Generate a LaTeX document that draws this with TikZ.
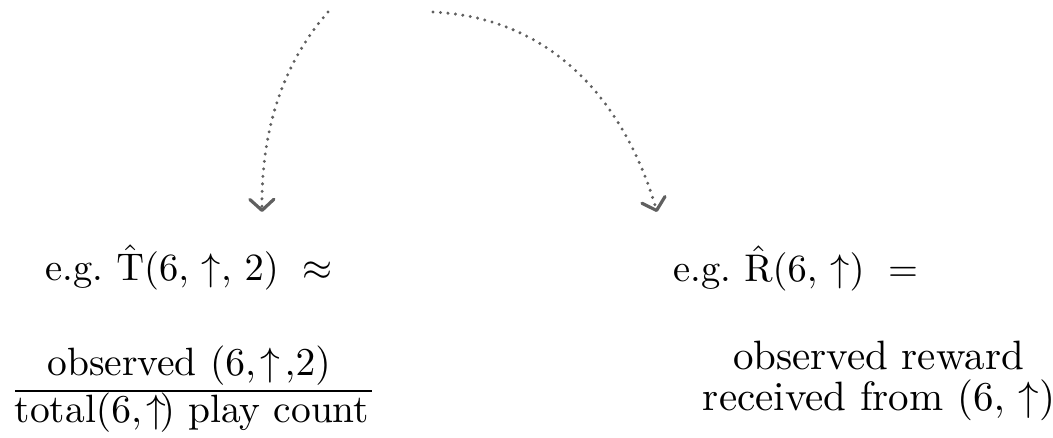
\documentclass[tikz,border=0pt]{standalone}
\usepackage{amsmath}
\usetikzlibrary{arrows.meta}
\definecolor{dotgray}{HTML}{606060}
\tikzset{
  dotarrow/.style={draw=dotgray, line width=3.3pt, line cap=round,
    dash pattern=on 0pt off 7.5pt,
    -{Straight Barb[length=11pt,width=24pt,line width=3.2pt,round]}},
  lbl/.style={inner sep=0pt, anchor=base, text=black, scale=3.95},
  lbltop/.style={inner sep=0pt, anchor=base west, text=black, scale=3.85},
  lblr/.style={inner sep=0pt, anchor=base, text=black, scale=4.1}
}
\begin{document}
\begin{tikzpicture}[x=1pt,y=-1pt]
\useasboundingbox (0,0) rectangle (1053,438);
\coordinate (s1) at (328,12);
\coordinate (e1) at (262,212);
\coordinate (s2) at (433,12);
\coordinate (e2) at (657,212);
\draw[dotarrow] (s1) .. controls (295,50) and (261,110) .. (e1);
\draw[dotarrow] (s2) .. controls (560,18) and (628,112) .. (e2);
% left column
\node[lbltop] (t1) at (45,281) {e.g.\ $\hat{\mathrm{T}}(6,\,\uparrow,\,2)\ \approx$};
\node[lbl] (num) at (189,376) {observed $(6{,}\!\uparrow\!{,}2)$};
\node[lbl] (den) at (192,423) {total$(6{,}\!\uparrow\!)$ play count};
\coordinate (rl) at (15,391);
\coordinate (rr) at (372,391);
\draw[line width=2.6pt] (rl) -- (rr);
% right column
\node[lbltop] (t2) at (673,282) {e.g.\ $\hat{\mathrm{R}}(6,\,\uparrow)\ =$};
\node[lblr] (r2a) at (878.5,370) {observed reward};
\node[lblr] (r2b) at (879,411) {received from $(6,\,\uparrow)$};
\end{tikzpicture}
\end{document}
